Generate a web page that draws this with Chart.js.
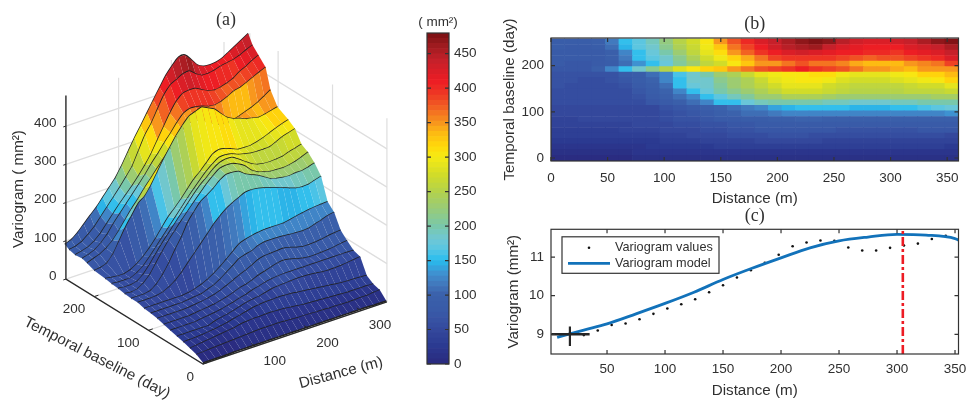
<!DOCTYPE html>
<html>
<head>
<meta charset="utf-8">
<title>Variogram</title>
<script src="https://cdn.jsdelivr.net/npm/chart.js"></script>
<style>
    html, body { margin: 0; padding: 0; background: #fff; overflow: hidden; }
    canvas { position: absolute; }
</style>
</head>
<body>
<canvas id="surface" width="410" height="401" style="left:0;top:0"></canvas>
<canvas id="colorbar" width="74" height="380" style="left:416px;top:0"></canvas>
<canvas id="heatmap" width="480" height="200" style="left:490px;top:8px"></canvas>
<canvas id="model" width="480" height="196" style="left:490px;top:205px"></canvas>
<script>
// distance bins (m) and temporal baselines (day) of the gridded variogram
const distanceBins = [6, 18, 30, 42, 54, 66, 78, 90, 102, 114, 126, 138, 150, 162, 174, 186, 198, 210, 222, 234, 246, 258, 270, 282, 294, 306, 318, 330, 342, 354];
const dayRows = [0, 12, 24, 36, 48, 60, 72, 84, 96, 108, 120, 132, 144, 156, 168, 180, 192, 204, 216, 228, 240, 252];

// panel (b): variogram (mm2) per baseline
const day0 = [5, 5, 6, 6, 7, 7, 8, 8, 8, 8, 9, 9, 9, 9, 10, 10, 10, 10, 10, 10, 10, 10, 10, 10, 10, 10, 10, 10, 10, 8];
const day12 = [12, 12, 13, 13, 14, 14, 15, 15, 16, 16, 17, 17, 18, 18, 18, 19, 19, 19, 20, 20, 20, 20, 20, 20, 20, 20, 20, 20, 18, 15];
const day24 = [18, 18, 18, 18, 20, 22, 22, 24, 25, 26, 28, 29, 30, 31, 31, 32, 32, 32, 32, 32, 32, 32, 32, 32, 32, 32, 32, 32, 30, 26];
const day36 = [25, 25, 25, 25, 25, 25, 25, 25, 30, 32, 35, 38, 40, 42, 43, 45, 46, 46, 46, 45, 44, 43, 43, 43, 43, 43, 43, 43, 42, 38];
const day48 = [30, 30, 30, 30, 30, 30, 33, 35, 38, 42, 45, 48, 50, 53, 55, 58, 60, 60, 60, 58, 56, 55, 55, 55, 55, 55, 55, 55, 55, 52];
const day60 = [35, 35, 35, 35, 35, 38, 40, 42, 45, 48, 52, 55, 58, 62, 65, 68, 70, 72, 72, 70, 68, 66, 65, 65, 65, 65, 65, 68, 68, 68];
const day72 = [38, 38, 38, 38, 38, 42, 45, 48, 50, 53, 57, 60, 65, 68, 72, 75, 78, 80, 82, 82, 80, 78, 75, 75, 75, 75, 75, 78, 80, 80];
const day84 = [42, 42, 45, 45, 45, 48, 50, 52, 55, 60, 65, 70, 75, 80, 85, 88, 92, 95, 98, 98, 95, 92, 90, 90, 90, 90, 90, 95, 95, 95];
const day96 = [48, 48, 48, 48, 48, 48, 50, 52, 58, 65, 72, 80, 90, 100, 108, 110, 115, 120, 122, 125, 125, 125, 125, 125, 125, 125, 125, 125, 125, 130];
const day108 = [50, 50, 50, 50, 50, 50, 50, 50, 60, 70, 80, 90, 100, 110, 115, 125, 135, 145, 150, 155, 155, 150, 148, 148, 148, 150, 152, 160, 170, 175];
const day120 = [55, 55, 55, 55, 55, 55, 55, 70, 80, 90, 105, 125, 150, 155, 175, 190, 195, 195, 195, 195, 190, 190, 185, 185, 185, 190, 190, 195, 200, 200];
const day132 = [55, 55, 55, 55, 55, 55, 65, 78, 90, 105, 125, 150, 170, 190, 205, 225, 230, 240, 245, 240, 235, 225, 225, 225, 225, 225, 230, 230, 235, 235];
const day144 = [57, 55, 55, 55, 55, 55, 70, 85, 100, 125, 155, 175, 195, 215, 230, 245, 260, 270, 275, 270, 265, 255, 250, 250, 250, 250, 255, 255, 260, 265];
const day156 = [60, 58, 58, 58, 58, 65, 75, 90, 110, 150, 175, 185, 205, 225, 240, 260, 270, 285, 290, 285, 275, 265, 260, 255, 255, 260, 265, 270, 275, 285];
const day168 = [62, 60, 58, 58, 60, 70, 85, 100, 120, 155, 180, 185, 215, 230, 245, 265, 285, 295, 300, 300, 295, 280, 270, 270, 275, 280, 285, 295, 305, 320];
const day180 = [65, 62, 60, 60, 62, 75, 85, 105, 125, 160, 185, 195, 225, 245, 265, 285, 298, 305, 305, 310, 310, 295, 285, 285, 285, 295, 305, 320, 320, 330];
const day192 = [72, 70, 70, 90, 120, 150, 185, 215, 250, 280, 300, 315, 325, 345, 365, 375, 385, 395, 405, 395, 385, 375, 360, 350, 345, 340, 335, 345, 350, 345];
const day204 = [75, 72, 72, 75, 85, 105, 130, 150, 175, 205, 230, 255, 270, 300, 325, 345, 350, 365, 375, 365, 365, 355, 340, 330, 330, 335, 345, 355, 365, 385];
const day216 = [78, 75, 75, 78, 90, 115, 150, 170, 185, 215, 240, 270, 295, 320, 340, 365, 385, 390, 395, 390, 395, 385, 380, 370, 375, 375, 385, 390, 400, 420];
const day228 = [80, 78, 78, 80, 97, 125, 155, 175, 200, 230, 255, 285, 310, 345, 370, 395, 410, 425, 430, 425, 415, 410, 405, 400, 400, 395, 405, 415, 420, 440];
const day240 = [85, 82, 82, 88, 110, 145, 165, 185, 210, 240, 265, 295, 325, 360, 385, 410, 430, 445, 455, 460, 440, 425, 415, 410, 410, 410, 420, 430, 440, 455];
const day252 = [88, 85, 85, 95, 115, 150, 172, 192, 218, 248, 275, 305, 345, 375, 400, 425, 440, 455, 470, 478, 468, 445, 430, 425, 425, 432, 440, 452, 465, 478];
const heatRows = [day0, day12, day24, day36, day48, day60, day72, day84, day96, day108, day120, day132, day144, day156, day168, day180, day192, day204, day216, day228, day240, day252];

// panel (a): heights, the surface is smoother than the image
const surfaceDays = [0, 12, 24, 36, 48, 60, 72, 84, 96, 108, 120, 132, 144, 156, 168, 180, 200, 213, 222, 235, 246, 254];
const surf0 = [3, 3, 3, 3, 3, 4, 4, 4, 4, 4, 4, 4, 4, 4, 4, 4, 4, 4, 4, 4, 4, 4, 4, 4, 4, 4, 4, 3, 3, 3];
const surf12 = [14, 15, 16, 17, 18, 19, 20, 21, 22, 23, 24, 24, 24, 24, 23, 22, 21, 21, 20, 19, 19, 18, 18, 17, 17, 17, 18, 18, 20, 21];
const surf24 = [20, 22, 24, 26, 28, 30, 32, 34, 38, 40, 41, 41, 42, 42, 41, 40, 38, 36, 34, 33, 32, 31, 30, 29, 28, 27, 27, 27, 27, 26];
const surf36 = [26, 26, 27, 28, 30, 32, 35, 38, 42, 46, 50, 54, 56, 58, 58, 59, 58, 57, 55, 53, 51, 49, 47, 45, 43, 41, 40, 40, 39, 38];
const surf48 = [30, 30, 30, 30, 30, 30, 36, 40, 43, 47, 52, 57, 60, 62, 66, 70, 72, 73, 74, 75, 75, 74, 72, 70, 69, 69, 70, 72, 74, 76];
const surf60 = [35, 35, 35, 35, 35, 38, 40, 42, 45, 49, 53, 58, 62, 68, 72, 77, 80, 82, 83, 83, 83, 83, 83, 83, 83, 83, 83, 83, 83, 82];
const surf72 = [40, 40, 40, 40, 40, 42, 44, 46, 48, 52, 56, 62, 68, 72, 78, 85, 90, 95, 100, 102, 99, 94, 90, 88, 88, 89, 90, 92, 95, 97];
const surf84 = [45, 45, 45, 45, 45, 46, 48, 50, 53, 57, 63, 70, 78, 86, 93, 101, 110, 114, 115, 116, 117, 113, 108, 104, 104, 105, 107, 110, 112, 114];
const surf96 = [48, 48, 48, 48, 48, 48, 50, 52, 54, 60, 66, 76, 88, 100, 113, 118, 122, 130, 134, 134, 134, 133, 131, 130, 129, 131, 136, 141, 147, 150];
const surf108 = [50, 50, 50, 50, 50, 50, 50, 52, 56, 62, 70, 80, 92, 106, 120, 135, 141, 145, 148, 150, 150, 150, 150, 153, 157, 160, 163, 165, 166, 167];
const surf120 = [55, 55, 55, 56, 60, 68, 80, 96, 115, 134, 153, 172, 192, 208, 222, 232, 240, 248, 249, 247, 243, 238, 232, 226, 220, 214, 212, 213, 218, 223];
const surf132 = [55, 55, 55, 58, 70, 90, 115, 145, 172, 205, 227, 247, 258, 270, 285, 295, 295, 292, 280, 272, 265, 255, 245, 240, 237, 236, 238, 238, 242, 247];
const surf144 = [57, 55, 58, 68, 85, 110, 135, 158, 178, 198, 217, 236, 254, 272, 287, 300, 303, 302, 295, 285, 268, 258, 252, 248, 247, 246, 248, 252, 258, 265];
const surf156 = [60, 58, 58, 62, 75, 95, 118, 140, 160, 180, 200, 220, 240, 258, 272, 288, 299, 303, 302, 292, 280, 269, 261, 258, 257, 258, 260, 266, 270, 275];
const surf168 = [62, 60, 60, 60, 68, 80, 98, 118, 138, 158, 178, 198, 218, 237, 255, 272, 286, 297, 298, 295, 288, 284, 280, 279, 279, 280, 287, 295, 300, 305];
const surf180 = [65, 62, 60, 60, 65, 75, 88, 105, 125, 148, 170, 187, 205, 225, 245, 260, 277, 295, 301, 298, 292, 285, 284, 284, 288, 293, 300, 307, 313, 318];
const surf200 = [68, 70, 76, 95, 125, 155, 180, 205, 218, 241, 270, 298, 324, 349, 370, 388, 394, 400, 392, 384, 367, 351, 342, 337, 330, 327, 323, 326, 330, 334];
const surf213 = [76, 82, 88, 98, 112, 132, 155, 178, 198, 220, 240, 260, 280, 300, 322, 340, 352, 355, 350, 340, 330, 322, 320, 322, 326, 332, 338, 346, 356, 367];
const surf222 = [80, 85, 92, 105, 122, 145, 165, 185, 205, 225, 245, 268, 288, 310, 330, 352, 370, 377, 376, 372, 366, 364, 368, 375, 384, 388, 395, 403, 411, 418];
const surf235 = [78, 82, 87, 97, 112, 132, 152, 172, 190, 208, 228, 250, 275, 305, 335, 365, 390, 405, 408, 407, 398, 390, 386, 388, 393, 400, 412, 420, 430, 438];
const surf246 = [82, 85, 92, 105, 120, 140, 160, 180, 200, 222, 245, 280, 315, 340, 372, 403, 423, 432, 441, 443, 430, 420, 420, 423, 428, 431, 434, 440, 448, 455];
const surf254 = [89, 95, 108, 125, 142, 158, 178, 198, 218, 245, 275, 305, 332, 360, 388, 415, 442, 462, 478, 478, 460, 440, 432, 430, 432, 438, 448, 458, 468, 478];
const surfaceRows = [surf0, surf12, surf24, surf36, surf48, surf60, surf72, surf84, surf96, surf108, surf120, surf132, surf144, surf156, surf168, surf180, surf200, surf213, surf222, surf235, surf246, surf254];

// panel (c)
const sampleDistance = [30, 42, 54, 66, 78, 90, 102, 114, 126, 138, 150, 162, 174, 186, 198, 210, 222, 234, 246, 258, 270, 282, 294, 306, 318, 330, 342, 354];
const sampleVariogram = [8.98, 9.10, 9.24, 9.28, 9.39, 9.53, 9.67, 9.78, 9.91, 10.09, 10.27, 10.47, 10.66, 10.85, 11.06, 11.28, 11.38, 11.43, 11.42, 11.25, 11.17, 11.17, 11.24, 11.30, 11.35, 11.47, 11.55, 11.69];
const modelDistance = [7, 30, 50, 75, 100, 125, 150, 175, 200, 225, 250, 275, 300, 325, 350, 353];
const modelVariogram = [8.92, 9.11, 9.27, 9.53, 9.80, 10.09, 10.42, 10.71, 10.98, 11.24, 11.42, 11.52, 11.59, 11.57, 11.48, 11.44];
const rangeDistance = 305;
const nuggetDistance = 18;
const nuggetValue = 9;

// tick labels
const surfaceZTicks = [0, 100, 200, 300, 400];
const surfaceDistanceTicks = [100, 200, 300];
const surfaceDayTicks = [0, 100, 200];
const colorbarTicks = [0, 50, 100, 150, 200, 250, 300, 350, 400, 450];
const heatXTicks = [0, 50, 100, 150, 200, 250, 300, 350];
const heatYTicks = [0, 100, 200];
const modelXTicks = [50, 100, 150, 200, 250, 300, 350];
const modelYTicks = [9, 10, 11];

// colour ramp of the bar: value, colour
const rampValues = [0, 25, 50, 75, 100, 115, 130, 150, 165, 180, 200, 225, 250, 275, 300, 315, 335, 350, 370, 390, 410, 440, 460, 480];
const rampColors = ['#2a2a7e', '#2b3990', '#34499d', '#395aa8', '#3a60ab', '#4178bc', '#3f8fcf', '#27bdee', '#56c5e4', '#6fc7d5', '#7ac8a8', '#99cb78', '#b4d24a', '#d3dc27', '#f5ea14', '#ffd90a', '#fdb913', '#f7941e', '#f26522', '#ee3a24', '#ed1c24', '#c4202a', '#a01c20', '#7a1012'];
const rampSteps = 64;
const rampMax = 480;

function hexToRgb(hex) {
    return [1, 3, 5].map(i => parseInt(hex.slice(i, i + 2), 16));
}

function colorFor(value) {
    // the figure uses a 64 step map, so snap first
    const step = rampMax / rampSteps;
    const v = Math.min(rampMax, (Math.floor(value / step) + 0.5) * step);
    let i = 0;
    while (i < rampValues.length - 2 && v > rampValues[i + 1]) i++;
    const f = (v - rampValues[i]) / (rampValues[i + 1] - rampValues[i]);
    const a = hexToRgb(rampColors[i]);
    const b = hexToRgb(rampColors[i + 1]);
    const c = a.map((n, j) => Math.round(n + (b[j] - n) * f));
    return `rgb(${c[0]},${c[1]},${c[2]})`;
}

Chart.defaults.font.family = '"Liberation Sans", Arial, sans-serif';
Chart.defaults.color = '#303030';
Chart.defaults.animation = false;
Chart.defaults.events = [];
Chart.defaults.plugins.legend.display = false;
Chart.defaults.plugins.tooltip.enabled = false;

const AXIS_DARK = '#333333';
const TICK_FONT = { size: 13.5 };
const LABEL_FONT = { size: 15.2 };

// matlab style box with the ticks pointing inwards on both sides
const boxTicks = {
    id: 'boxTicks',
    afterDatasetsDraw(chart, args, opts) {
        const { ctx, chartArea: a, scales } = chart;
        const len = opts.length || 4;
        ctx.save();
        ctx.strokeStyle = AXIS_DARK;
        ctx.lineWidth = 1.2;
        ctx.strokeRect(a.left, a.top, a.right - a.left, a.bottom - a.top);
        ctx.beginPath();
        if (scales.x && scales.x.options.display) {
            scales.x.ticks.forEach(t => {
                const px = scales.x.getPixelForValue(t.value);
                ctx.moveTo(px, a.bottom); ctx.lineTo(px, a.bottom - len);
                ctx.moveTo(px, a.top); ctx.lineTo(px, a.top + len);
            });
        }
        scales.y.ticks.forEach(t => {
            const py = scales.y.getPixelForValue(t.value);
            ctx.moveTo(a.left, py); ctx.lineTo(a.left + len, py);
            ctx.moveTo(a.right, py); ctx.lineTo(a.right - len, py);
        });
        ctx.stroke();
        ctx.restore();
    }
};

function fixedTicks(values) {
    return scale => { scale.ticks = values.map(v => ({ value: v })); };
}

function sideAxis(ticks, extra) {
    return Object.assign({
        type: 'linear',
        grid: { display: false, drawTicks: false },
        border: { display: false },
        afterBuildTicks: fixedTicks(ticks),
    }, extra);
}

// ---- panel (a): the surface is projected on to two hidden linear scales

function project(d, t, z) {
    return {
        x: 203 + 0.527 * d - 0.544 * t,
        y: 364 - 0.178 * d - 0.337 * t - 0.3825 * z
    };
}

function polyLine(points, color, width) {
    return { data: points, showLine: true, borderColor: color, borderWidth: width, pointRadius: 0, fill: false, clip: false };
}

const WALL_GREY = '#dedede';
const Z_TOP = 480;
const D_END = 349;
const T_END = 252;
const surfaceSets = [];

// back walls and floor
surfaceZTicks.forEach(z => {
    surfaceSets.push(polyLine([project(0, T_END, z), project(D_END, T_END, z), project(D_END, 0, z)], WALL_GREY, 1.2));
});
surfaceDistanceTicks.forEach(d => {
    surfaceSets.push(polyLine([project(d, 0, 0), project(d, T_END, 0), project(d, T_END, Z_TOP)], WALL_GREY, 1.2));
});
surfaceDayTicks.forEach(t => {
    surfaceSets.push(polyLine([project(0, t, 0), project(D_END, t, 0), project(D_END, t, Z_TOP)], WALL_GREY, 1.2));
});
surfaceSets.push(polyLine([project(D_END, T_END, 0), project(D_END, T_END, Z_TOP)], WALL_GREY, 1.2));

// painter's order, far baseline first, one dataset per facet
for (let i = surfaceDays.length - 1; i >= 0; i--) {
    if (i < surfaceDays.length - 1) {
        for (let j = distanceBins.length - 2; j >= 0; j--) {
            const d0 = distanceBins[j] - 6, d1 = distanceBins[j + 1] - 6;
            const color = colorFor(heatRows[i][j]);
            surfaceSets.push({
                data: [
                    project(d0, surfaceDays[i], surfaceRows[i][j]),
                    project(d1, surfaceDays[i], surfaceRows[i][j + 1]),
                    project(d1, surfaceDays[i + 1], surfaceRows[i + 1][j + 1]),
                    project(d0, surfaceDays[i + 1], surfaceRows[i + 1][j]),
                    project(d0, surfaceDays[i], surfaceRows[i][j])
                ],
                showLine: true, fill: 'shape', backgroundColor: color,
                borderWidth: 0, pointRadius: 0, clip: false
            });
        }
    }
    const rowLine = polyLine(distanceBins.map((d, j) => project(d - 6, surfaceDays[i], surfaceRows[i][j])), '#222222', 1.5);
    rowLine.tension = 0.35;
    surfaceSets.push(rowLine);
}

// front axes and their ticks
surfaceSets.push(polyLine([project(0, T_END, Z_TOP), project(0, T_END, 0), project(0, 0, 0), project(D_END, 0, 0)], '#2a2a2a', 1.4));
surfaceZTicks.forEach(z => {
    surfaceSets.push(polyLine([project(0, T_END, z), project(-5, T_END, z)], '#2a2a2a', 1));
});
surfaceDistanceTicks.forEach(d => {
    surfaceSets.push(polyLine([project(d, 0, 0), project(d, 8, 0)], '#2a2a2a', 1));
});
surfaceDayTicks.forEach(t => {
    surfaceSets.push(polyLine([project(0, t, 0), project(8, t, 0)], '#2a2a2a', 1));
});

// text of the 3d axes follows the same projection
const surfaceText = {
    id: 'surfaceText',
    afterDraw(chart) {
        const { ctx, scales } = chart;
        const put = (text, x, y, font, align, angle) => {
            ctx.save();
            ctx.translate(x, y);
            ctx.rotate((angle || 0) * Math.PI / 180);
            ctx.font = font;
            ctx.fillStyle = '#303030';
            ctx.textAlign = align || 'center';
            ctx.textBaseline = 'middle';
            ctx.fillText(text, 0, 0);
            ctx.restore();
        };
        const at = p => ({ x: scales.x.getPixelForValue(p.x), y: scales.y.getPixelForValue(p.y) });
        const tickFont = '13.5px "Liberation Sans"';
        const labelFont = '15.2px "Liberation Sans"';
        surfaceZTicks.forEach(z => {
            put(String(z), 56.5, at(project(0, T_END, z)).y - 3, tickFont, 'right');
        });
        surfaceDistanceTicks.forEach(d => {
            const p = at(project(d, 0, 0));
            put(String(d), p.x + 19, p.y + 15, tickFont);
        });
        surfaceDayTicks.forEach(t => {
            const p = at(project(0, t, 0));
            put(String(t), p.x - 9, p.y + 13, tickFont, 'right');
        });
        put('Variogram ( mm²)', 19, 189, labelFont, 'center', -90);
        put('Temporal baseline (day)', 97, 358, labelFont, 'center', 27);
        put('Distance (m)', 341, 373, labelFont, 'center', -15);
        put('(a)', 226, 20, '18px "Liberation Serif"');
    }
};

new Chart(document.getElementById('surface'), {
    type: 'scatter',
    data: { datasets: surfaceSets.reverse() }, // first dataset is painted last
    options: {
        responsive: false,
        layout: { padding: 0 },
        scales: {
            x: { type: 'linear', display: false, min: 0, max: 410 },
            y: { type: 'linear', display: false, min: 0, max: 401, reverse: true }
        }
    },
    plugins: [surfaceText]
});

// ---- colour bar

const barSets = [];
for (let s = 0; s < rampSteps; s++) {
    const lo = s * rampMax / rampSteps;
    const hi = (s + 1) * rampMax / rampSteps;
    barSets.push({ data: [[lo, hi]], backgroundColor: colorFor(lo + 1), grouped: false, barPercentage: 1, categoryPercentage: 1 });
}

// the unit sits over the narrow bar and is wider than it
const barUnit = {
    id: 'barUnit',
    afterDraw(chart) {
        const { ctx, chartArea: a } = chart;
        ctx.save();
        ctx.font = '13.5px "Liberation Sans"';
        ctx.fillStyle = '#303030';
        ctx.textAlign = 'center';
        ctx.textBaseline = 'middle';
        ctx.fillText('( mm²)', (a.left + a.right) / 2, a.top - 11);
        ctx.restore();
    }
};

new Chart(document.getElementById('colorbar'), {
    type: 'bar',
    data: { labels: ['mm2'], datasets: barSets },
    options: {
        responsive: false,
        layout: { padding: { left: 11, top: 33, bottom: 16 } },
        plugins: { boxTicks: { length: 4 } },
        scales: {
            x: { display: false, offset: true },
            y: sideAxis(colorbarTicks, {
                position: 'right', min: 0, max: rampMax,
                ticks: { padding: 5, font: TICK_FONT },
                afterFit(scale) { scale.width = 41; }
            })
        }
    },
    plugins: [boxTicks, barUnit]
});

// ---- panel (b)

const heatSets = dayRows.map((day, i) => ({
    data: distanceBins.map(d => ({ x: d, y: [day - 6, day + 6] })),
    backgroundColor: heatRows[i].map(colorFor),
    grouped: false, barPercentage: 1, categoryPercentage: 1, borderWidth: 0
}));

new Chart(document.getElementById('heatmap'), {
    type: 'bar',
    data: { datasets: heatSets },
    options: {
        responsive: false,
        layout: { padding: { right: 11.5 } },
        plugins: {
            title: { display: true, text: '(b)', fullSize: false, font: { family: '"Liberation Serif"', size: 18, weight: 'normal' }, padding: { top: 5, bottom: 3.4 } },
            boxTicks: { length: 4 }
        },
        scales: {
            x: sideAxis(heatXTicks, {
                min: 0, max: 360, offset: false,
                ticks: { padding: 9, font: TICK_FONT, maxRotation: 0, autoSkip: false },
                title: { display: true, text: 'Distance (m)', font: LABEL_FONT, padding: { top: 0, bottom: 0 } },
                afterFit(scale) { scale.height = 47; scale.paddingLeft = 0; scale.paddingRight = 0; }
            }),
            y: sideAxis(heatYTicks, {
                min: -6.5, max: 260,
                ticks: { padding: 7, font: TICK_FONT, autoSkip: false },
                title: { display: true, text: 'Temporal baseline (day)', font: LABEL_FONT, padding: { top: 11, bottom: 0 } },
                afterFit(scale) { scale.width = 61; }
            })
        }
    },
    plugins: [boxTicks]
});

// ---- panel (c)

const legendBox = {
    id: 'legendBox',
    afterDraw(chart) {
        const { ctx, chartArea: a } = chart;
        const x = a.left + 11, y = a.top + 7.5, w = 157, h = 36.5;
        ctx.save();
        ctx.fillStyle = '#fff';
        ctx.strokeStyle = AXIS_DARK;
        ctx.lineWidth = 1.2;
        ctx.fillRect(x, y, w, h);
        ctx.strokeRect(x, y, w, h);
        ctx.fillStyle = '#111';
        ctx.beginPath();
        ctx.arc(x + 27, y + 11, 1.3, 0, Math.PI * 2);
        ctx.fill();
        ctx.strokeStyle = '#1272ba';
        ctx.lineWidth = 2.8;
        ctx.beginPath();
        ctx.moveTo(x + 6, y + 26.5);
        ctx.lineTo(x + 48, y + 26.5);
        ctx.stroke();
        ctx.fillStyle = '#303030';
        ctx.font = '12.7px "Liberation Sans"';
        ctx.textBaseline = 'middle';
        ctx.fillText(chart.data.datasets[3].label, x + 53, y + 11);
        ctx.fillText(chart.data.datasets[2].label, x + 53, y + 26.5);
        ctx.restore();
    }
};

new Chart(document.getElementById('model'), {
    type: 'scatter',
    data: {
        datasets: [
            {
                label: 'Nugget',
                data: [{ x: 2, y: nuggetValue }, { x: 35, y: nuggetValue }],
                showLine: true, borderColor: '#262626', borderWidth: 2.6, pointRadius: 0
            },
            {
                label: 'Nugget marker',
                data: [{ x: nuggetDistance, y: 9.2 }, { x: nuggetDistance, y: 8.7 }],
                showLine: true, borderColor: '#262626', borderWidth: 2.2, pointRadius: 0
            },
            {
                label: 'Variogram model',
                data: modelDistance.map((d, i) => ({ x: d, y: modelVariogram[i] })),
                showLine: true, borderColor: '#1272ba', borderWidth: 2.8, pointRadius: 0, cubicInterpolationMode: 'monotone', order: 3
            },
            {
                label: 'Variogram values',
                data: sampleDistance.map((d, i) => ({ x: d, y: sampleVariogram[i] })),
                pointRadius: 1.3, pointBackgroundColor: '#111', pointBorderWidth: 0, order: 4
            },
            {
                label: 'Range',
                data: [{ x: rangeDistance, y: 8.49 }, { x: rangeDistance, y: 11.72 }],
                showLine: true, borderColor: '#ed1c24', borderWidth: 2.6, borderDash: [9, 3, 3, 3], pointRadius: 0, order: 1
            }
        ]
    },
    options: {
        responsive: false,
        layout: { padding: { right: 11.5 } },
        plugins: {
            title: { display: true, text: '(c)', fullSize: false, font: { family: '"Liberation Serif"', size: 18, weight: 'normal' }, padding: { top: 0, bottom: 2.7 } },
            boxTicks: { length: 4 }
        },
        scales: {
            x: sideAxis(modelXTicks, {
                min: 1.7, max: 353,
                ticks: { padding: 7, font: TICK_FONT, maxRotation: 0, autoSkip: false },
                title: { display: true, text: 'Distance (m)', font: LABEL_FONT, padding: { top: 0, bottom: 1 } },
                afterFit(scale) { scale.height = 47; scale.paddingLeft = 0; scale.paddingRight = 0; }
            }),
            y: sideAxis(modelYTicks, {
                min: 8.49, max: 11.72,
                ticks: { padding: 7, font: TICK_FONT, autoSkip: false },
                title: { display: true, text: 'Variogram (mm²)', font: LABEL_FONT, padding: { top: 15, bottom: 0 } },
                afterFit(scale) { scale.width = 61; }
            })
        }
    },
    plugins: [boxTicks, legendBox]
});
</script>
</body>
</html>
